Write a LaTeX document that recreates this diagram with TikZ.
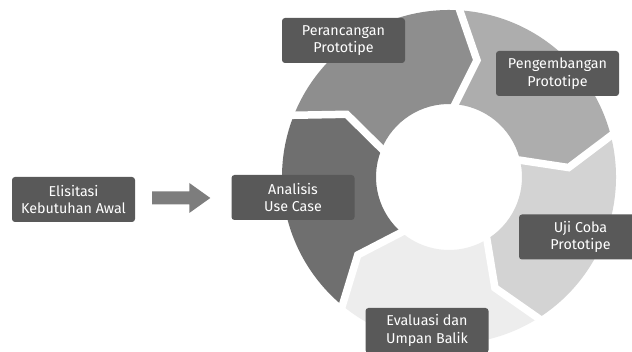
\documentclass[tikz,border=0pt]{standalone}
\usepackage{fontspec}
\setmainfont{Fira Sans}[Ligatures=NoCommon]
\usetikzlibrary{calc}
\definecolor{segA}{HTML}{6F6F6F}
\definecolor{segB}{HTML}{8E8E8E}
\definecolor{segC}{HTML}{ADADAD}
\definecolor{segD}{HTML}{D3D3D3}
\definecolor{segE}{HTML}{EDEDED}
\definecolor{boxc}{HTML}{595959}
\definecolor{arrowc}{HTML}{7D7D7D}
\tikzset{
  label box/.style={fill=boxc, text=white, rounded corners=3pt, minimum width=123pt, minimum height=45pt, inner sep=0pt, align=center, font=\fontsize{14.3}{17.5}\selectfont},
  gapline/.style={white, line width=7.5pt, line join=miter},
}
\newcommand{\ringseg}[3]{% start angle, end angle, colour
  \fill[#3] (#1:167) arc[start angle=#1, end angle=#2, radius=167] -- ({#2-10.5}:120) -- (#2:73) arc[start angle=#2, end angle=#1, radius=73] -- ({#1-10.5}:120) -- cycle;}
\begin{document}
\begin{tikzpicture}[x=1pt,y=1pt]
\useasboundingbox (0,0) rectangle (632,352);
\clip (0,0) rectangle (632,352);
\fill[white] (0,0) rectangle (632,352);
\begin{scope}[shift={(449,175)}]
  \ringseg{231}{159}{segA}
  \ringseg{159}{87}{segB}
  \ringseg{87}{15}{segC}
  \ringseg{15}{-57}{segD}
  \ringseg{-57}{-129}{segE}
  \foreach \a in {231,159,87,15,-57}{
    \draw[gapline] (\a:172) -- ({\a-10.5}:120) -- (\a:68);
  }
\end{scope}
\node[label box] (elis) at (73.5,152.5) {Elisitasi\\Kebutuhan Awal};
\node[label box] (anal) at (293,154.5) {Analisis\\Use Case};
\node[label box] (peran) at (343.5,311.5) {Perancangan\\Prototipe};
\node[label box] (peng) at (557.5,278.5) {Pengembangan\\Prototipe};
\node[label box] (uji) at (580.5,115) {Uji Coba\\Prototipe};
\node[label box] (eval) at (427,21.5) {Evaluasi dan\\Umpan Balik};
\coordinate (as) at ($(elis.east)+(17,1.5)$);
\coordinate (at) at ($(anal.west)+(-21,-0.5)$);
\fill[arrowc] ($(as)+(0,6.5)$) -- ($(at)+(-21,6.5)$) -- ($(at)+(-21,15)$) -- (at) -- ($(at)+(-21,-15)$) -- ($(at)+(-21,-6.5)$) -- ($(as)+(0,-6.5)$) -- cycle;
\end{tikzpicture}
\end{document}
